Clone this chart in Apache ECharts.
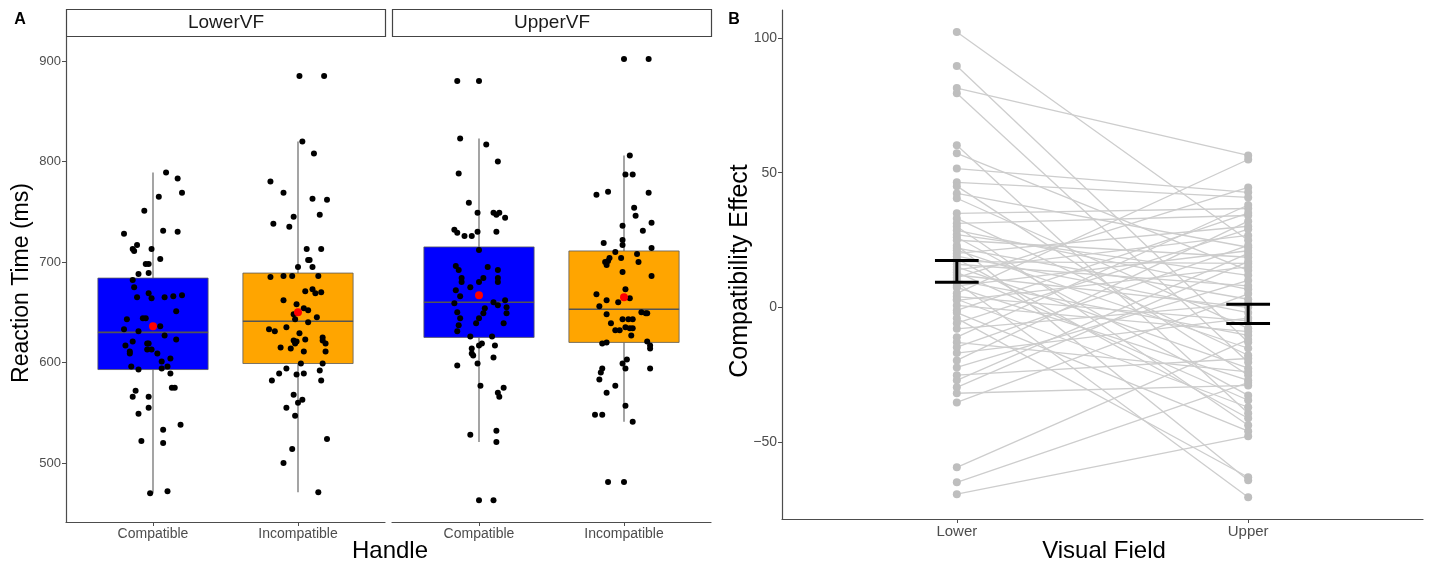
<!DOCTYPE html>
<html>
<head>
<meta charset="utf-8">
<script src="https://cdn.jsdelivr.net/npm/echarts@6/dist/echarts.min.js"></script>
<style>
  html, body { margin: 0; background: #fff; }
  #main { width: 1429px; height: 565px; }
</style>
</head>
<body>
<div id="main"></div>
<script>
// ---- panel A data ----
const handles = ["Compatible", "Incompatible"];
const facets = ["LowerVF", "UpperVF"];
const rtTicks = [500, 600, 700, 800, 900];

// [lower whisker, q1, median, q3, upper whisker]
const lowerCompatibleBox = [470, 593, 630, 684, 789];
const lowerIncompatibleBox = [471, 599, 641, 689, 820];
const upperCompatibleBox = [521, 625, 660, 715, 823];
const upperIncompatibleBox = [541, 620, 653, 711, 806];

const lowerMeans = [636, 650];
const upperMeans = [667, 665];

// [jitter (category units), reaction time]
const lowerCompatiblePts = [
  [0.09,789],[0.17,783],[0.20,769],[0.04,765],[-0.06,751],[-0.20,728],[0.07,731],[0.17,730],[-0.11,717],[-0.14,713],
  [-0.13,711],[-0.01,713],[0.05,703],[-0.05,698],[-0.03,698],[-0.10,688],[-0.03,689],[-0.14,682],[-0.13,675],[-0.11,665],
  [-0.03,669],[-0.01,664],[0.08,665],[0.14,666],[0.20,667],[0.16,651],[-0.18,643],[-0.07,644],[-0.05,644],[-0.20,633],
  [-0.10,631],[0.05,636],[0.08,627],[-0.14,621],[0.16,623],[-0.19,617],[-0.04,619],[-0.03,619],[-0.16,611],[-0.16,609],
  [-0.04,613],[-0.01,613],[0.03,609],[0.06,601],[0.12,604],[-0.15,596],[-0.10,593],[0.06,594],[0.10,596],[0.12,589],
  [-0.12,572],[-0.14,566],[0.13,575],[0.15,575],[-0.03,566],[-0.03,555],[-0.10,549],[0.19,538],[0.07,533],[-0.08,522],
  [0.07,520],[-0.02,470],[0.10,472]
];
const lowerIncompatiblePts = [
  [0.01,885],[0.18,885],[0.03,820],[0.11,808],[-0.19,780],[-0.10,769],[0.10,763],[0.20,762],[-0.17,738],[-0.03,745],
  [-0.06,735],[0.15,747],[0.06,713],[0.16,713],[0.07,702],[0.08,702],[0.00,695],[0.10,695],[-0.19,685],[-0.10,686],
  [-0.04,686],[0.14,686],[0.05,671],[0.10,673],[0.12,669],[0.16,670],[-0.10,662],[-0.01,658],[0.04,654],[0.07,652],
  [-0.03,648],[-0.02,643],[0.07,640],[0.13,645],[-0.08,635],[-0.20,633],[-0.16,631],[0.01,629],[-0.03,622],[-0.02,619],
  [-0.01,621],[0.05,623],[0.17,625],[0.17,622],[0.19,619],[-0.12,615],[-0.05,614],[0.04,611],[0.19,611],[0.02,599],
  [0.17,599],[-0.08,594],[0.15,592],[-0.13,589],[-0.01,588],[0.04,589],[-0.18,582],[0.16,582],[-0.03,568],[0.03,563],
  [0.00,560],[-0.08,555],[-0.02,547],[0.20,524],[-0.04,514],[-0.10,500],[0.14,471]
];
const upperCompatiblePts = [
  [-0.15,880],[0.00,880],[-0.13,823],[0.05,817],[0.13,800],[-0.14,788],[-0.07,759],[-0.01,749],[0.10,749],[0.12,747],
  [0.14,749],[0.18,744],[-0.17,732],[-0.15,729],[-0.10,726],[-0.05,726],[-0.01,730],[0.12,730],[0.00,712],[-0.16,696],
  [-0.14,692],[0.06,695],[0.13,692],[-0.12,684],[0.03,684],[0.13,684],[-0.12,680],[0.00,680],[0.13,680],[-0.06,675],
  [-0.16,672],[-0.13,666],[-0.17,659],[0.10,660],[0.13,657],[0.18,662],[0.19,655],[0.04,654],[0.03,649],[-0.15,650],
  [0.19,649],[-0.13,644],[0.00,644],[-0.02,639],[0.17,639],[-0.14,637],[-0.15,631],[-0.06,626],[0.09,626],[0.02,619],
  [0.00,617],[0.11,617],[-0.05,614],[-0.05,609],[-0.04,607],[0.10,605],[-0.01,599],[-0.15,597],[0.01,577],[0.17,575],
  [0.13,570],[0.14,566],[-0.06,528],[0.12,532],[0.12,521],[0.00,463],[0.10,463]
];
const upperIncompatiblePts = [
  [0.00,902],[0.17,902],[0.04,806],[0.01,787],[0.06,787],[-0.19,767],[-0.11,770],[0.17,769],[0.07,754],[0.08,746],
  [0.19,739],[-0.01,736],[0.13,731],[-0.14,719],[-0.01,722],[-0.01,717],[0.19,714],[-0.06,710],[0.09,708],[-0.13,700],
  [-0.12,697],[-0.11,701],[-0.10,704],[-0.02,704],[0.10,700],[-0.01,690],[0.19,686],[0.01,673],[-0.19,668],[-0.12,662],
  [-0.04,660],[0.04,664],[-0.17,656],[0.12,650],[0.15,649],[0.16,649],[-0.12,648],[-0.01,643],[0.03,643],[0.06,643],
  [-0.09,639],[0.01,635],[0.04,634],[0.06,634],[-0.06,632],[-0.03,632],[0.05,627],[-0.15,619],[-0.12,620],[0.16,621],
  [0.18,617],[0.18,614],[0.02,603],[-0.01,599],[0.01,594],[0.18,594],[-0.15,594],[-0.16,590],[-0.17,583],[-0.06,577],
  [-0.12,570],[0.01,557],[-0.20,548],[-0.15,548],[0.06,541],[-0.11,481],[0.00,481]
];

// ---- panel B data ----
const visualFields = ["Lower", "Upper"];
const effectTicks = [-50, 0, 50, 100];
const effectLower = [
  102.2, 89.6, 81.4, 79.5, 60.2, 57.2, 51.5, 46.4, 45.0, 42.3, 40.5, 34.9, 33.0, 31.2, 30.0,
  28.6, 27.0, 26.0, 24.9, 23.0, 22.0, 21.2, 20.0, 19.0, 18.0, 17.0, 16.0, 15.0, 14.0, 13.0,
  12.0, 11.0, 10.0, 9.3, 8.0, 7.4, 5.2, 4.0, 3.0, 2.6, 0.7, -1.1, -2.0, -4.1, -5.9,
  -8.0, -11.1, -13.0, -14.8, -17.0, -19.7, -22.3, -25.2, -27.1, -29.7, -31.9, -35.3, -59.4, -65.0, -69.4
];
const effectUpper = [
  24.9, -13.0, 56.4, -20.4, -39.3, 13.7, 42.7, 40.8, -25.2, 22.3, -7.8, 36.7, -17.8, 34.1, -43.8,
  6.7, 11.9, -32.7, 18.6, -64.2, 3.0, -15.2, 30.1, -2.0, -41.2, 16.3, 8.0, -22.6, 26.7, -34.5,
  0.0, 44.5, -10.4, -70.5, 21.0, -27.1, 54.9, -5.0, -37.1, 15.0, -9.0, 35.0, -46.0, -63.1, 29.0,
  1.5, 38.0, -24.0, 23.0, -4.0, 32.0, 10.0, -19.0, 20.0, 17.0, -29.0, 5.0, -12.0, -28.0, -47.9
];
const effectBarLow = [9.3, -6.0];
const effectBarHigh = [17.4, 1.1];

// ---- helpers ----
const FONT = "Liberation Sans, Arial, sans-serif";
const AXIS_GREY = "#4d4d4d";
const boxColors = ["#0000ff", "#ffa500"];

function boxData(boxes) {
  return boxes.map((b, i) => ({ value: [i + 1, ...b], itemStyle: { color: boxColors[i] } }));
}
function jittered(cellPts, cat) {
  return cellPts.map(([j, v]) => [cat + j, v]);
}

function renderBox(params, api) {
  const x = api.value(0);
  const hw = 0.38;
  const lo = api.coord([x, api.value(1)]);
  const q1 = api.coord([x - hw, api.value(2)]);
  const med = api.coord([x - hw, api.value(3)]);
  const medR = api.coord([x + hw, api.value(3)]);
  const q3 = api.coord([x + hw, api.value(4)]);
  const hi = api.coord([x, api.value(5)]);
  const cx = lo[0];
  const q1y = q1[1], q3y = q3[1];
  const ws = { stroke: "#5a5a5a", lineWidth: 1.1 };
  return {
    type: "group",
    children: [
      { type: "line", shape: { x1: cx, y1: hi[1], x2: cx, y2: q3y }, style: ws },
      { type: "line", shape: { x1: cx, y1: q1y, x2: cx, y2: lo[1] }, style: ws },
      {
        type: "rect",
        shape: { x: q1[0], y: q3y, width: q3[0] - q1[0], height: q1y - q3y },
        style: { fill: api.visual("color"), stroke: "#5a5a5a", lineWidth: 0.8 },
      },
      { type: "line", shape: { x1: med[0], y1: med[1], x2: medR[0], y2: med[1] }, style: { stroke: "#555", lineWidth: 1.6 } },
    ],
  };
}

function renderErrorBar(params, api) {
  const x = api.value(0);
  const lo = api.coord([x, api.value(1)]);
  const hi = api.coord([x, api.value(2)]);
  const cap = api.size([0.15, 0])[0] / 2;
  const st = { stroke: "#000", lineWidth: 3 };
  return {
    type: "group",
    children: [
      { type: "line", shape: { x1: lo[0], y1: lo[1], x2: hi[0], y2: hi[1] }, style: st },
      { type: "line", shape: { x1: lo[0] - cap, y1: lo[1], x2: lo[0] + cap, y2: lo[1] }, style: st },
      { type: "line", shape: { x1: hi[0] - cap, y1: hi[1], x2: hi[0] + cap, y2: hi[1] }, style: st },
    ],
  };
}

function catAxis(gridIndex, names, fontSize) {
  return {
    type: "value",
    gridIndex,
    min: 0.4,
    max: 2.6,
    axisLine: { show: true, onZero: false, lineStyle: { color: AXIS_GREY, width: 1.2 } },
    axisTick: { show: true, customValues: [1, 2], length: 4, lineStyle: { color: AXIS_GREY } },
    axisLabel: {
      customValues: [1, 2],
      formatter: (v) => names[Math.round(v) - 1],
      color: AXIS_GREY,
      fontFamily: FONT,
      fontSize,
      margin: 5,
    },
    splitLine: { show: false },
  };
}

function valAxis(gridIndex, min, max, ticks, show, fontSize) {
  return {
    type: "value",
    gridIndex,
    min,
    max,
    show,
    axisLine: { show: true, onZero: false, lineStyle: { color: AXIS_GREY, width: 1.2 } },
    axisTick: { show: true, customValues: ticks, length: 4, lineStyle: { color: AXIS_GREY } },
    axisLabel: {
      customValues: ticks,
      formatter: (v) => (v < 0 ? "\u2212" + Math.abs(v) : String(v)),
      color: AXIS_GREY,
      fontFamily: FONT,
      fontSize,
      margin: 5,
    },
    splitLine: { show: false },
  };
}

// ---- build series ----
const series = [];

[
  [lowerCompatibleBox, lowerIncompatibleBox, lowerMeans, lowerCompatiblePts, lowerIncompatiblePts],
  [upperCompatibleBox, upperIncompatibleBox, upperMeans, upperCompatiblePts, upperIncompatiblePts],
].forEach(([b1, b2, means, p1, p2], g) => {
  series.push({
    type: "custom",
    xAxisIndex: g,
    yAxisIndex: g,
    renderItem: renderBox,
    encode: { x: 0, y: [1, 2, 3, 4, 5] },
    data: boxData([b1, b2]),
    z: 2,
  });
  series.push({
    type: "scatter",
    xAxisIndex: g,
    yAxisIndex: g,
    symbolSize: 6,
    itemStyle: { color: "#000", opacity: 1 },
    data: jittered(p1, 1).concat(jittered(p2, 2)),
    z: 3,
  });
  series.push({
    type: "scatter",
    xAxisIndex: g,
    yAxisIndex: g,
    symbolSize: 8,
    itemStyle: { color: "#ff0000", opacity: 1 },
    data: means.map((m, i) => [i + 1, m]),
    z: 4,
  });
});

effectLower.forEach((v, i) => {
  series.push({
    type: "line",
    xAxisIndex: 2,
    yAxisIndex: 2,
    symbol: "none",
    lineStyle: { color: "#cdcdcd", width: 1.3 },
    data: [[1, v], [2, effectUpper[i]]],
    z: 2,
  });
});
series.push({
  type: "scatter",
  xAxisIndex: 2,
  yAxisIndex: 2,
  symbolSize: 8,
  itemStyle: { color: "#bebebe", opacity: 1 },
  data: effectLower.map((v) => [1, v]).concat(effectUpper.map((v) => [2, v])),
  z: 3,
});
series.push({
  type: "custom",
  xAxisIndex: 2,
  yAxisIndex: 2,
  renderItem: renderErrorBar,
  encode: { x: 0, y: [1, 2] },
  data: effectBarLow.map((lo, i) => [i + 1, lo, effectBarHigh[i]]),
  z: 5,
});

// ---- decorations ----
const titleStyle = (text, size, weight) => ({
  text,
  fill: "#000",
  font: `${weight || "normal"} ${size}px ${FONT}`,
  textAlign: "center",
  textVerticalAlign: "middle",
});

const graphic = [
  { type: "text", x: 20, y: 20, style: titleStyle("A", 16, "bold") },
  { type: "text", x: 734, y: 20, style: titleStyle("B", 16, "bold") },
  ...facets.flatMap((name, i) => {
    const left = i === 0 ? 66 : 392;
    return [
      {
        type: "rect",
        shape: { x: left + 0.5, y: 9.5, width: 319, height: 27 },
        style: { fill: "#fff", stroke: "#444", lineWidth: 1.2 },
      },
      {
        type: "text",
        x: left + 160,
        y: 23,
        style: { text: name, fill: "#1a1a1a", font: `19px ${FONT}`, textAlign: "center", textVerticalAlign: "middle" },
      },
    ];
  }),
  { type: "text", x: 22, y: 283, rotation: Math.PI / 2, style: titleStyle("Reaction Time (ms)", 23) },
  { type: "text", x: 390, y: 551, style: titleStyle("Handle", 24) },
  { type: "text", x: 740, y: 271, rotation: Math.PI / 2, style: titleStyle("Compatibility Effect", 25) },
  { type: "text", x: 1104, y: 551, style: titleStyle("Visual Field", 24) },
];

const chart = echarts.init(document.getElementById("main"), null, { renderer: "canvas" });
chart.setOption({
  animation: false,
  backgroundColor: "#fff",
  grid: [
    { left: 66, top: 37, width: 319, height: 485 },
    { left: 392, top: 37, width: 319, height: 485 },
    { left: 782, top: 10, width: 641, height: 509 },
  ],
  xAxis: [catAxis(0, handles, 14), catAxis(1, handles, 14), catAxis(2, visualFields, 15)],
  yAxis: [
    valAxis(0, 441.3, 923.9, rtTicks, true, 13),
    valAxis(1, 441.3, 923.9, rtTicks, false, 13),
    valAxis(2, -78.6, 110.4, effectTicks, true, 14),
  ],
  series,
  graphic,
});
</script>
</body>
</html>
